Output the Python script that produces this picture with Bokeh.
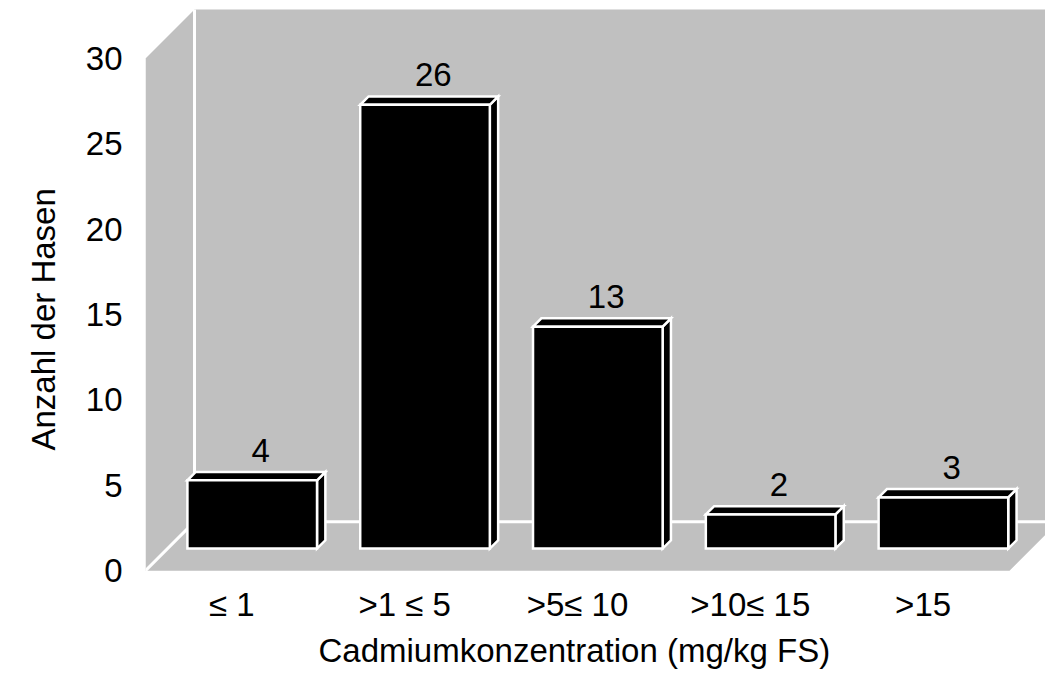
from bokeh.plotting import figure
from bokeh.models import Range1d, FixedTicker, Title
from bokeh.embed import file_html
from bokeh.resources import INLINE
from bokeh.core.properties import value

# Data
categories = ["≤ 1", ">1 ≤ 5", ">5≤ 10", ">10≤ 15", ">15"]
counts = [4, 26, 13, 2, 3]
y_ticks = [0, 5, 10, 15, 20, 25, 30]
x_title = "Cadmiumkonzentration (mg/kg FS)"
y_title = "Anzahl der Hasen"

FONT = "Liberation Sans"
FS = "33px"
GRAY = "#C0C0C0"

# pixel scale of one x unit (category) and one y unit (count)
XU = 172.8
YU = 17.07
# 3D depth of the chart box in pixels, converted to data units
DEPTH = 49
DX = DEPTH / XU
DY = DEPTH / YU
YMAX = 30
N = len(categories)

W, H = 1045, 673
LEFT, BOTTOM = 145, 102
frame_w = W - LEFT
frame_h = H - BOTTOM
y_lo = -0.05

p = figure(width=W, height=H, output_backend="svg", toolbar_location=None,
           x_range=Range1d(0, frame_w / XU), y_range=Range1d(y_lo, y_lo + frame_h / YU),
           min_border_left=LEFT, min_border_right=0, min_border_top=0,
           min_border_bottom=BOTTOM)
p.outline_line_color = None
p.xgrid.visible = False
p.ygrid.visible = False
p.background_fill_color = "white"
p.border_fill_color = "white"


def shift(u, v, d):
    return u + d * DX, v + d * DY


# walls and floor
far = frame_w / XU + 2
p.patch([DX, far, far, DX], [DY, DY, YMAX + DY, YMAX + DY], fill_color=GRAY, line_color=None)
p.patch([0, DX, DX, 0], [0, DY, YMAX + DY, YMAX], fill_color=GRAY, line_color=None)
p.patch([0, N, N + DX, far, far, DX], [0, 0, DY, DY, DY, DY], fill_color=GRAY, line_color=None)

# white edges where the planes meet
p.line([DX, far], [DY, DY], line_color="white", line_width=3)
p.line([DX, DX], [DY, YMAX + DY], line_color="white", line_width=3)
p.line([0, DX], [0, DY], line_color="white", line_width=3)

# bars as boxes
bar_w = 0.75
d0, d1 = 0.45, 0.62
front_x, front_y, top_x, top_y, side_x, side_y = [], [], [], [], [], []
lab_x, lab_y = [], []
for i, c in enumerate(counts):
    mid = i + 0.49
    u0 = mid - bar_w / 2
    u1 = mid + bar_w / 2
    pts = [shift(u0, 0, d0), shift(u1, 0, d0), shift(u1, c, d0), shift(u0, c, d0)]
    front_x.append([q[0] for q in pts]); front_y.append([q[1] for q in pts])
    pts = [shift(u0, c, d0), shift(u1, c, d0), shift(u1, c, d1), shift(u0, c, d1)]
    top_x.append([q[0] for q in pts]); top_y.append([q[1] for q in pts])
    pts = [shift(u1, 0, d0), shift(u1, c, d0), shift(u1, c, d1), shift(u1, 0, d1)]
    side_x.append([q[0] for q in pts]); side_y.append([q[1] for q in pts])
    lx, ly = shift(mid, c, d1)
    lab_x.append(lx); lab_y.append(ly + 0.6)

for xs, ys in [(side_x, side_y), (top_x, top_y), (front_x, front_y)]:
    p.patches(xs, ys, fill_color="black", line_color="white", line_width=2.5,
              line_join="miter")

p.text(lab_x, lab_y, text=[str(c) for c in counts], text_font=value(FONT),
       text_font_size=FS, text_align="center", text_baseline="bottom",
       text_color="black")

# axes (tick labels only)
for ax in (p.xaxis[0], p.yaxis[0]):
    ax.axis_line_color = None
    ax.major_tick_line_color = None
    ax.minor_tick_line_color = None
    ax.major_tick_in = 0
    ax.major_tick_out = 0
    ax.minor_tick_out = 0
    ax.major_label_text_font = FONT
    ax.major_label_text_font_size = FS
    ax.major_label_text_color = "black"
    ax.major_label_text_line_height = 1.0

p.yaxis.ticker = FixedTicker(ticks=y_ticks)
p.yaxis.major_label_standoff = 23

p.xaxis.ticker = FixedTicker(ticks=[i + 0.5 for i in range(N)])
p.xaxis.major_label_overrides = {i + 0.5: c for i, c in enumerate(categories)}
p.xaxis.major_label_standoff = 14

# axis titles
p.add_layout(Title(text=x_title, align="left", offset=173, standoff=8,
                   text_font=FONT, text_font_size=FS, text_font_style="normal",
                   text_color="black", text_line_height=1.0), "below")
p.add_layout(Title(text=y_title, align="left", offset=121, standoff=42,
                   text_font=FONT, text_font_size=FS, text_font_style="normal",
                   text_color="black", text_line_height=1.0), "left")

open("out.html", "w").write(file_html(p, INLINE))
